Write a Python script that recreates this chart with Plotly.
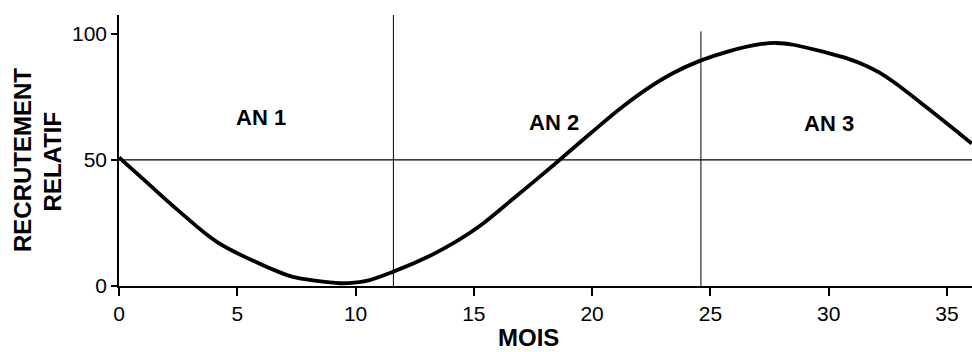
import plotly.graph_objects as go

# Data
months = [0, 1.0, 2.45, 4.15, 5.95, 6.8, 7.35, 8.2, 9.35, 10.35, 11.65, 13.15,
          14.4, 15.25, 16.65, 18.5, 19.9, 21.3, 22.45, 23.45, 24.55, 25.7,
          27.1, 27.8, 28.5, 29.9, 30.75, 31.6, 32.15, 32.75, 34.15, 35.55, 36.05]
recruitment = [51, 42.6, 30.4, 17.4, 8.8, 5.4, 3.6, 2.2, 1.1, 1.8, 5.9, 12.0,
               18.5, 23.8, 34.5, 49.0, 60.3, 71.2, 79.0, 84.6, 89.3, 92.9,
               95.9, 96.4, 95.7, 92.6, 90.4, 87.3, 84.6, 80.9, 70.8, 60.3, 56.5]

year_bounds = [11.6, 24.6]
year_bound_tops = [107.5, 101]
reference_level = 50

year_labels = ["AN 1", "AN 2", "AN 3"]
year_label_x = [6.0, 18.4, 30.0]
year_label_y = [67, 65, 64.3]

x_ticks = [0, 5, 10, 15, 20, 25, 30, 35]
y_ticks = [0, 50, 100]
x_range = [0, 36.06]
y_range = [0, 107.5]

FONT = "Liberation Sans, Arial, Helvetica, sans-serif"

fig = go.Figure()
fig.add_trace(go.Scatter(
    x=months, y=recruitment, mode="lines",
    line=dict(color="black", width=3.8, shape="spline", smoothing=1.0),
    hoverinfo="skip", showlegend=False,
))

shapes = [dict(type="line", xref="x", yref="y", x0=x_range[0], x1=x_range[1],
               y0=reference_level, y1=reference_level,
               line=dict(color="black", width=1.2))]
for xb, top in zip(year_bounds, year_bound_tops):
    shapes.append(dict(type="line", xref="x", yref="y", x0=xb, x1=xb,
                       y0=0, y1=top, line=dict(color="black", width=1)))

annotations = []
for txt, xx, yy in zip(year_labels, year_label_x, year_label_y):
    annotations.append(dict(text="<b>" + txt + "</b>", x=xx, y=yy, xref="x", yref="y",
                            showarrow=False,
                            font=dict(size=22, color="black", family=FONT)))

annotations += [
    dict(text="<b>RECRUTEMENT</b>", x=-0.1125, y=0.465, xref="paper", yref="paper",
         textangle=-90, showarrow=False, xanchor="center", yanchor="middle",
         font=dict(size=24, color="black", family=FONT)),
    dict(text="<b>RELATIF</b>", x=-0.0785, y=0.46, xref="paper", yref="paper",
         textangle=-90, showarrow=False, xanchor="center", yanchor="middle",
         font=dict(size=24, color="black", family=FONT)),
    dict(text="<b>MOIS</b>", x=0.4795, y=-0.247, xref="paper", yref="paper",
         showarrow=False, xanchor="center", yanchor="bottom",
         font=dict(size=24, color="black", family=FONT)),
]

fig.update_layout(
    width=972, height=352,
    margin=dict(l=119, r=0, t=15, b=66),
    paper_bgcolor="white", plot_bgcolor="white",
    shapes=shapes, annotations=annotations,
    font=dict(family=FONT, color="black"),
    xaxis=dict(range=x_range, tickvals=x_ticks, showgrid=False, zeroline=False,
               showline=True, linecolor="black", linewidth=1.5,
               ticks="outside", ticklen=8, tickwidth=1.5, tickcolor="black",
               tickfont=dict(size=21, color="black", family=FONT)),
    yaxis=dict(range=y_range, tickvals=y_ticks, showgrid=False, zeroline=False,
               showline=True, linecolor="black", linewidth=1.5,
               ticks="outside", ticklen=6, tickwidth=1.5, tickcolor="black",
               tickfont=dict(size=21, color="black", family=FONT)),
)

fig.write_html("out.html")
